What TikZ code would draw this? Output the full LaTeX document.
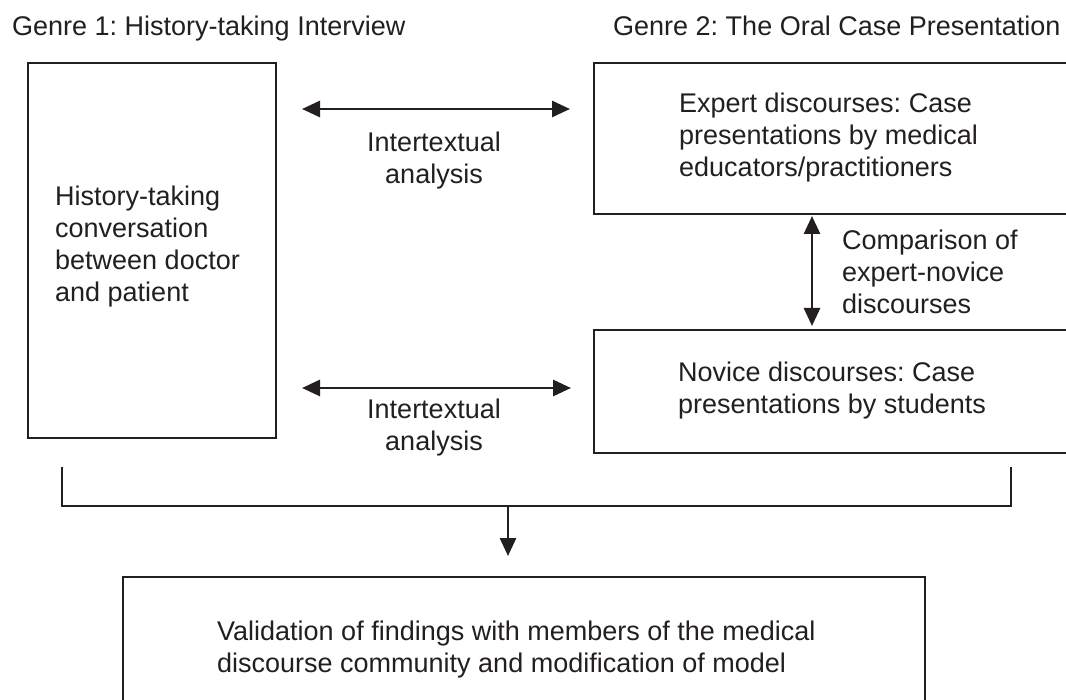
\documentclass[tikz,border=0pt]{standalone}
\usepackage{fontspec}
\setmainfont{Liberation Sans}
\usetikzlibrary{arrows.meta}
\definecolor{ink}{RGB}{35,31,32}
\frenchspacing
\begin{document}
\begin{tikzpicture}[x=1pt,y=-1pt,
  box/.style={draw=ink, line width=2pt, inner sep=0pt, anchor=north west},
  txt/.style={text=ink, inner sep=0pt, align=left, font=\fontsize{27}{32}\selectfont},
  dblarrow/.style={draw=ink, line width=2.8pt, {Triangle[length=18pt,width=16pt]}-{Triangle[length=18pt,width=16pt]}},
  onearrow/.style={draw=ink, line width=2.8pt, -{Triangle[length=18pt,width=16pt]}},
  bracketline/.style={draw=ink, line width=2pt}
]
\useasboundingbox (0,0) rectangle (1066,700);
\fill[white] (0,0) rectangle (1066,700);
\clip (0,0) rectangle (1066,700);

% boxes
\node[box, minimum width=248pt, minimum height=375pt] (L) at (27,62) {};
\node[box, minimum width=482pt, minimum height=151pt] (T) at (593,62) {};
\node[box, minimum width=482pt, minimum height=123pt] (B) at (593,329) {};
\node[box, minimum width=802pt, minimum height=140pt] (V) at (122,576) {};

% titles
\node[txt, anchor=base west] (g1) at (12,36) {Genre 1: History-taking Interview};
\node[txt, anchor=base west] (g2) at (613,36) {Genre 2: The Oral Case Presentation};

% box texts
\node[txt, anchor=west] (lt) at (55,247) {History-taking\\conversation\\between doctor\\and patient};
\node[txt, anchor=west] (tt) at (679,138) {Expert discourses: Case\\presentations by medical\\educators/practitioners};
\node[txt, anchor=west] (bt) at (678,391) {Novice discourses: Case\\presentations by students};
\node[txt, anchor=west] (vt) at (217,650) {Validation of findings with members of the medical\\discourse community and modification of model};

% connector labels
\node[txt, align=center] (i1) at (434,161) {Intertextual\\analysis};
\node[txt, align=center] (i2) at (434,428) {Intertextual\\analysis};
\node[txt, anchor=west] (ct) at (842,272) {Comparison of\\expert-novice\\discourses};

% connectors
\coordinate (yA) at (0,109);
\coordinate (yB) at (0,388);
\coordinate (xC) at (812,0);
\draw[dblarrow, shorten <=25pt, shorten >=23pt] (L.east |- yA) -- (T.west |- yA);
\draw[dblarrow, shorten <=25pt, shorten >=22pt] (L.east |- yB) -- (B.west |- yB);
\draw[dblarrow, shorten <=1pt, shorten >=3pt] (T.south -| xC) -- (B.north -| xC);

% bracket
\coordinate (k1) at (62,467);
\coordinate (k1b) at (62,506);
\coordinate (k2b) at (1011,506);
\coordinate (k2) at (1011,467);
\coordinate (m) at (508,506);
\draw[bracketline] (k1) -- (k1b) -- (k2b) -- (k2);
\draw[onearrow, shorten >=20pt] (m) -- (m |- V.north);
\end{tikzpicture}
\end{document}
